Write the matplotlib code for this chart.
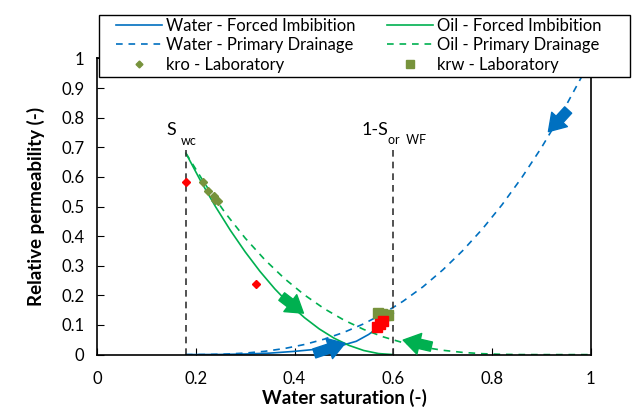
import matplotlib
matplotlib.use("Agg")
import matplotlib.pyplot as plt
from matplotlib.lines import Line2D
from matplotlib.patches import Rectangle

plt.rcParams['font.family'] = ['Lato', 'DejaVu Sans']

blue = '#0070C0'
green = '#00B050'
olive = '#77933C'

# water rel perm, forced imbibition
sw_wfi = [0.18, 0.25, 0.30, 0.35, 0.40, 0.45, 0.50, 0.525, 0.55, 0.575, 0.60]
krw_fi = [0.0, 0.0005, 0.002, 0.005, 0.011, 0.019, 0.033, 0.045, 0.068, 0.098, 0.14]

# water rel perm, primary drainage
sw_wpd = [0.18, 0.22, 0.26, 0.30, 0.34, 0.38, 0.42, 0.46, 0.50, 0.54, 0.58,
          0.62, 0.66, 0.70, 0.74, 0.78, 0.82, 0.86, 0.90, 0.94, 0.98, 1.00]
krw_pd = [0.0, 0.0003, 0.0017, 0.0051, 0.0112, 0.0207, 0.0341, 0.0521, 0.0752, 0.1039, 0.1389,
          0.1805, 0.229, 0.2858, 0.3503, 0.4236, 0.5058, 0.5976, 0.6992, 0.8114, 0.9343, 1.0]

# oil rel perm, forced imbibition
sw_ofi = [0.18, 0.21, 0.24, 0.27, 0.30, 0.33, 0.36, 0.39, 0.42, 0.45, 0.48, 0.51, 0.54, 0.57, 0.60]
kro_fi = [0.68, 0.586, 0.4996, 0.4198, 0.347, 0.281, 0.222, 0.17, 0.1249, 0.0867, 0.0555,
          0.0312, 0.0139, 0.0035, 0.0]

# oil rel perm, primary drainage
sw_opd = [0.18, 0.22, 0.26, 0.30, 0.34, 0.38, 0.42, 0.46, 0.50, 0.54, 0.58, 0.62,
          0.66, 0.70, 0.74, 0.78, 0.82, 0.86, 0.90, 1.00]
kro_pd = [0.68, 0.5728, 0.4776, 0.3935, 0.32, 0.2562, 0.2015, 0.1552, 0.1166, 0.085, 0.0597, 0.04,
          0.0252, 0.0146, 0.0075, 0.0031, 0.0009, 0.0001, 0.0, 0.0]

# laboratory points
sw_kro_lab = [0.215, 0.224, 0.236, 0.239, 0.244]
kro_lab = [0.584, 0.553, 0.537, 0.522, 0.519]
sw_krw_lab = [0.568, 0.577, 0.584, 0.59]
krw_lab = [0.14, 0.137, 0.135, 0.133]

# other measurements (red)
sw_red_d = [0.18, 0.321]
kr_red_d = [0.582, 0.237]
sw_red_s = [0.566, 0.573, 0.579]
kr_red_s = [0.094, 0.104, 0.112]

swc = 0.18
sor_wf = 0.60

fig = plt.figure(figsize=(6.34, 4.09), dpi=100)
ax = fig.add_axes([0.153, 0.133, 0.779, 0.724])

ax.plot(sw_wfi, krw_fi, color=blue, lw=1.2)
ax.plot(sw_wpd, krw_pd, color=blue, lw=1.2, dashes=(4, 3.5))
ax.plot(sw_ofi, kro_fi, color=green, lw=1.2)
ax.plot(sw_opd, kro_pd, color=green, lw=1.2, dashes=(4, 3.5))

ax.plot([swc, swc], [0, 0.7], color='#333333', lw=1.2, dashes=(4, 3))
ax.plot([sor_wf, sor_wf], [0, 0.7], color='#333333', lw=1.2, dashes=(4, 3))

ax.plot(sw_kro_lab, kro_lab, 'D', color=olive, ms=4.5, ls='none')
ax.plot(sw_krw_lab, krw_lab, 's', color=olive, ms=7, ls='none')
ax.plot(sw_red_d, kr_red_d, 'D', color='red', ms=4, ls='none')
ax.plot(sw_red_s, kr_red_s, 's', color='red', ms=7, ls='none')

arrows = [((0.954, 0.826), (0.914, 0.753), blue),
          ((0.44, 0.004), (0.502, 0.038), blue),
          ((0.374, 0.196), (0.418, 0.14), green),
          ((0.677, 0.027), (0.62, 0.049), green)]
for tail, head, c in arrows:
    ax.annotate('', xy=head, xytext=tail,
                arrowprops=dict(arrowstyle='simple,head_length=0.7,head_width=0.9,tail_width=0.4',
                                color=c, mutation_scale=17, shrinkA=0, shrinkB=0))

ax.text(0.14, 0.742, 'S', fontsize=13)
ax.text(0.17, 0.708, 'wc', fontsize=9)
ax.text(0.536, 0.742, '1-S', fontsize=13)
ax.text(0.59, 0.712, 'or  WF', fontsize=9)

ax.set_xlim(0, 1)
ax.set_ylim(0, 1)
ax.set_xticks([0, 0.2, 0.4, 0.6, 0.8, 1])
ax.set_xticklabels(['0', '0.2', '0.4', '0.6', '0.8', '1'])
ax.set_yticks([i / 10 for i in range(11)])
ax.set_yticklabels(['0', '0.1', '0.2', '0.3', '0.4', '0.5', '0.6', '0.7', '0.8', '0.9', '1'])
ax.tick_params(direction='in', length=5, labelsize=12)
ax.tick_params(axis='x', pad=12)
ax.tick_params(axis='y', pad=9)
ax.set_xlabel('Water saturation (-)', fontsize=13.5, fontweight='bold', labelpad=1)
ax.set_ylabel('Relative permeability (-)', fontsize=13.5, fontweight='bold', labelpad=12)
for s in ax.spines.values():
    s.set_linewidth(1.2)

# legend box, drawn on its own like in the original
fig.patches.append(Rectangle((99 / 634, 1 - 77 / 409), 531 / 634, 62 / 409,
                             transform=fig.transFigure, facecolor='white',
                             edgecolor='black', lw=1.0, zorder=5))

handles = [Line2D([], [], color=blue, lw=1.2),
           Line2D([], [], color=blue, lw=1.2, dashes=(4, 3.5)),
           Line2D([], [], color=olive, marker='D', ms=3.5, ls='none'),
           Line2D([], [], color=green, lw=1.2),
           Line2D([], [], color=green, lw=1.2, dashes=(4, 3.5)),
           Line2D([], [], color=olive, marker='s', ms=6, ls='none')]
labels = ['Water - Forced Imbibition', 'Water - Primary Drainage', 'kro - Laboratory',
          'Oil - Forced Imbibition', 'Oil - Primary Drainage', 'krw - Laboratory']
leg = fig.legend(handles, labels, ncol=2, loc='upper left',
                 bbox_to_anchor=(116 / 634, 1 - 18 / 409), fontsize=12,
                 frameon=False, borderaxespad=0, borderpad=0,
                 handlelength=2.75, handletextpad=0.25, labelspacing=0.2,
                 columnspacing=1.9)
leg.set_zorder(6)

fig.savefig('out.png', dpi=100)
